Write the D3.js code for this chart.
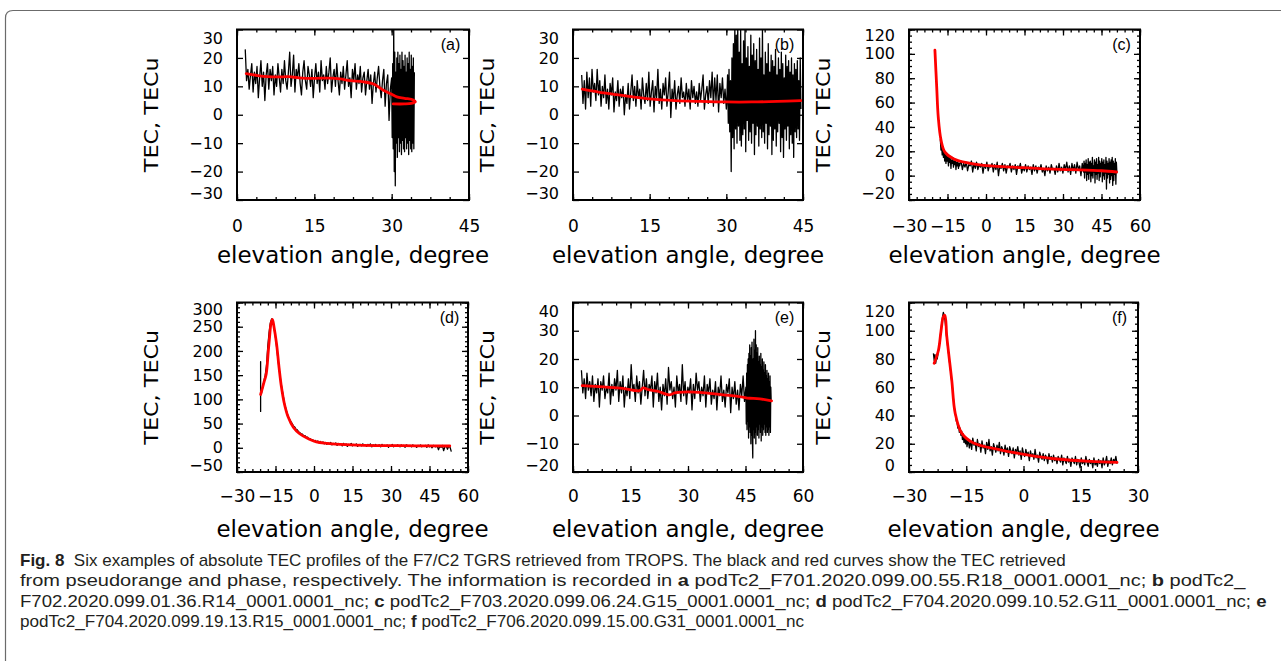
<!DOCTYPE html>
<html><head><meta charset="utf-8">
<script src="https://cdn.jsdelivr.net/npm/d3@7"></script>
<style>body{margin:0;background:#fff}svg{display:block}</style>
</head><body>
<svg id="c" width="1281" height="661"></svg>
<script>
// ---------------- DATA ----------------
// black curves: segments of [xStart, xEnd, values sampled evenly between them]
const aBlack = [
  [1.6, 30.0, [23,12,16,9,14,18,8,15,11,17,6,13,19,10,15,5,14,18,9,16,12,17,7,14,10,18,13,8,16,11,19,12,9,15,22,10,14,21,8,16,13,18,11,7,15,19,12,9,17,14,10,16,6,13,18,11,15,8,19,12,14,9,17,11,15,20,8,13,16,10,18,12,7,15,11,17,9,14,19,10,13,6,16,12,18,9,14,11,17,8,13,15,7,12,16,9,14,4,11,15,8,13,17,10,6,12,16,3,11,14,-2,9,13]],
  [30.1, 34.4, [-8,18,-12,32,-20,22,-25,15,-10,20,-15,22,-8,18,-13,21,-10,16,-14,22,-9,19,-12,17,-13,21,-8,15,-12,20,-10,18,-14,22,-9,16,-12,21,-13,17,-10,20,-12,15]]
];
const aRedX = [1.8, 4, 6, 8, 10, 12, 15, 18, 20, 22, 24.5, 26.5, 28.3, 30, 31, 32.5, 34.2, 34.6, 33.8, 32.5, 30.3];
const aRedY = [14.5, 13.8, 13.4, 13.3, 13.4, 13.0, 12.8, 12.9, 12.6, 12.0, 11.6, 10.8, 8.7, 7.2, 6.3, 5.8, 5.2, 4.6, 4.0, 3.8, 3.8];

const bBlack = [
  [1.7, 30.0, [14,4,12,2,15,6,13,3,16,8,11,5,16,7,12,3,10,6,14,4,9,2,11,7,13,1,8,5,12,3,9,6,10,0,7,4,11,2,8,14,5,10,3,12,6,9,2,13,7,4,11,5,15,3,8,12,1,10,6,16,4,9,2,11,7,13,3,8,15,-1,9,5,12,2,7,10,4,13,6,8,3,11,5,9,2,12,6,10,4,8,3,11,5,9,14,2,7,10,4,12,6,15,3,13,5,14,1,11,6,13,4,9,2]],
  [30.1, 44.6, [5,14,-3,16,-6,12,-20,20,-8,25,-12,32,-5,28,-10,32,-4,22,-9,30,-11,18,-7,26,-5,30,-13,20,-2,24,-9,17,-6,28,-10,21,-3,25,-14,19,-7,23,-4,16,-11,27,-5,20,-8,30,-6,14,-10,22,-3,18,-12,25,-7,15,-4,21,-14,19,-9,17,-5,23,-11,14,-6,20,-3,16,-13,22,-8,18,-15,13,-5,21,-9,17,-4,19,-12,15,-7,20,-10,14,-15,18,-6,16,-8,19,-5,12,-9,20,2]]
];
const bRedX = [1.8, 5, 8, 12, 15, 20, 25, 30, 35, 40, 44.6];
const bRedY = [9.0, 8.0, 7.2, 6.2, 5.6, 5.0, 4.7, 4.5, 4.5, 4.7, 5.0];

const cBlack = [
  [-17.8, -10, [30,21,26,17,23,15,21,12,19,10,17,12,16,8,15,11,14,6,13,10,15,7,12,9,13,5,11,8,12,6,10,8,11]],
  [-9.7, 38, [12,5,10,7,11,4,9,8,12,3,10,6,11,5,9,7,10,2,9,6,11,4,8,7,10,3,9,5,11,0,8,6,10,4,9,2,8,7,10,3,8,5,9,1,8,6,10,2,7,4,9,3,8,5,7,1,9,4,8,2,7,5,9,3,6,0,8,4,7,2,9,5,6,1,8,3,10,4,7,2,9,5,11,3,8,1,10,4,9,2,11,5,8,0,10,3]],
  [38.2, 51, [12,-2,10,3,13,-4,9,1,14,-3,11,2,12,-5,10,0,15,-2,8,3,13,-6,11,1,14,-3,9,2,15,-4,12,-1,10,4,14,-5,11,0,13,-3,9,2,15,-11,12,-2,10,1,14,-6,11,-3,13,0,15,-8,12,-4,10,1,14,-7,11,2]]
];
const cRedX = [-19.9, -19.2, -18.6, -17.5, -16, -12.7, -7.5, -1, 10.6, 21, 34, 45, 50.9];
const cRedY = [103, 72.5, 48, 29, 19.3, 13.9, 10.6, 8.4, 7.0, 5.7, 4.9, 4.0, 3.0];

const dBlack = [
  [-20.8, -20.8, [110, 75, 178, 112]],
  [-20.5, -10, [112,124,138,150,170,210,238,258,266,262,245,228,205,180,160,140,122,108,92,82,72,64]],
  [-9.5, 53.5, [58,54,50,45,43,38,37,33,31,29,28,24,25,21,22,18,19,16,17,13,15,12,14,10,13,9,12,8,11,7,10,8,11,6,9,7,10,5,9,7,8,4,9,6,8,3,7,6,9,4,7,5,8,3,6,7,4,8,5,6,3,7,5,8,2,6,4,7,3,5,6,2,7,4,5,3,6,1,5,4,7,2,5,3,6,4,2,6,3,5,1,6,4,3,5,2,6,3,4,1,5,3,6,2,4,3,5,1,6,2,4,0,5,3,2,4,-4,3,1,5,-6,2,4,-3,3,1,-8]]
];
const dRedX = [-20.8, -19.5, -18.6, -17.8, -17.3, -16.8, -16.2, -15.6, -14.6, -13.6, -12.7, -11.5, -10.1, -8, -5.6, -2, 0.9, 5, 10, 19.1, 30, 40, 52.9];
const dRedY = [110, 135, 153, 200, 229, 255, 265, 250, 215, 165, 126, 90, 64, 42, 29, 18, 12, 9, 7, 5, 4.5, 4, 3.7];

const eBlack = [
  [2.2, 45.1, [16,8,13,6,15,9,12,7,14,5,11,8,13,3,12,9,14,6,10,8,15,4,11,7,13,9,16,5,12,8,14,3,10,7,13,6,18,9,11,5,14,8,12,4,10,16,7,13,6,11,9,14,3,12,8,15,5,10,2,11,7,13,4,17,9,12,6,10,3,14,8,11,5,18,7,12,4,10,8,13,2,11,6,15,9,12,5,10,7,14,3,11,8,13,4,9,6,12,2,10,7,14,5,9,3,11,8,13,1,10,6,12,4,9,2,11,7,14,5,10]],
  [45.2, 51.7, [-3,15,-5,18,-2,20,-8,22,-4,25,-6,21,-10,24,-7,26,-9,-15,20,-5,27,-8,23,-6,30,-10,25,-4,22,-7,24,-5,19,-8,21,-3,18,-6,22,-9,17,-4,20,-7,16,-5,19,-3,15,-6,18,-7,14,-4,16,-6,13,-5,15,-7,12,-4,14,-6,10,5]]
];
const eRedX = [2.4, 8, 13, 17.4, 18.3, 19.5, 22, 25.2, 26.5, 28.7, 33, 39.1, 43, 46.1, 48, 51.8];
const eRedY = [10.6, 10.1, 9.6, 8.8, 9.8, 9.2, 8.6, 7.3, 8.0, 8.3, 8.2, 7.3, 6.8, 6.1, 6.0, 5.2];

const fBlack = [
  [-23.6, -15, [84,79,83,77,81,80,84,87,91,96,101,106,110,113,111,108,103,97,92,87,83,78,74,69,64,59,53,48,43,40,36,35,31,33,28,31,26,29,23,27,21,25,20,24]],
  [-14.8, 24.5, [18,23,17,22,16,24,19,21,15,23,18,20,14,22,17,19,13,21,16,23,15,18,12,20,17,14,19,15,21,13,18,16,12,19,14,17,11,18,15,13,17,10,16,14,18,12,15,9,17,13,11,16,12,14,8,15,11,13,9,16,10,12,7,14,11,9,13,8,12,10,6,13,9,11,7,12,8,10,6,11,9,7,12,5,10,8,6,11,7,9,4,10,8,6,11,5,9,7,3,10,6,8,5,11,7,4,9,6,8,3,10,5,7,4,9,6,8,3,10,5,7,11,4,8,6,10,5,9,7,11,6]]
];
const fRedX = [-23.4, -22.3, -21.6, -21.0, -20.6, -20.1, -18.8, -17.9, -16.2, -13.1, -6.1, 0.9, 8.8, 17.5, 24.5];
const fRedY = [77, 86, 100, 110, 111, 96, 65, 41.6, 27.5, 20.5, 15.7, 12.2, 9.2, 7.5, 6.8];

const xTicksA = [0, 15, 30, 45];
const xTicksC = [-30, -15, 0, 15, 30, 45, 60];
const xTicksE = [0, 15, 30, 45, 60];
const xTicksF = [-30, -15, 0, 15, 30];
const yTicksA = [-30, -20, -10, 0, 10, 20, 30];
const yTicksC = [-20, 0, 20, 40, 60, 80, 100, 120];
const yTicksD = [-50, 0, 50, 100, 150, 200, 250, 300];
const yTicksE = [-20, -10, 0, 10, 20, 30, 40];
const yTicksF = [0, 20, 40, 60, 80, 100, 120];
const panelLetters = ["(a)", "(b)", "(c)", "(d)", "(e)", "(f)"];
const xTitle = "elevation angle, degree";
const yTitle = "TEC, TECu";

// ---------------- LAYOUT ----------------
const panels = [
  {lab:panelLetters[0], box:[237,29.5,469,200], xd:[0,45], yd:[-30,30], xt:xTicksA, yt:yTicksA, xm:3.75, ym:0, black:aBlack, rx:aRedX, ry:aRedY, row:0, top:8.5},
  {lab:panelLetters[1], box:[573,29.5,803,200], xd:[0,45], yd:[-30,30], xt:xTicksA, yt:yTicksA, xm:3.75, ym:0, black:bBlack, rx:bRedX, ry:bRedY, row:0, top:8.5},
  {lab:panelLetters[2], box:[909,29.5,1140,200], xd:[-30,60], yd:[-20,120], xt:xTicksC, yt:yTicksC, xm:3, ym:5, black:cBlack, rx:cRedX, ry:cRedY, row:0, top:5.5},
  {lab:panelLetters[3], box:[237,302.5,468,472], xd:[-30,60], yd:[-50,300], xt:xTicksC, yt:yTicksD, xm:3, ym:10, black:dBlack, rx:dRedX, ry:dRedY, row:1, top:7},
  {lab:panelLetters[4], box:[573,302.5,803,472], xd:[0,60], yd:[-20,40], xt:xTicksE, yt:yTicksE, xm:3.75, ym:0, black:eBlack, rx:eRedX, ry:eRedY, row:1, top:8.5},
  {lab:panelLetters[5], box:[909,302.5,1138,472], xd:[-30,30], yd:[0,120], xt:xTicksF, yt:yTicksF, xm:3.75, ym:5, black:fBlack, rx:fRedX, ry:fRedY, row:1, top:8.5}
];

const svg = d3.select("#c");
// outer frame
svg.append("path")
  .attr("d", "M5.5,700 L5.5,18 Q5.5,10.5 13,10.5 L1300,10.5")
  .attr("fill", "none").attr("stroke", "#6b6b6b").attr("stroke-width", 1.2);

const fmt = v => v < 0 ? "\u2212" + Math.abs(v) : String(v);
const FONT = "DejaVu Sans";

function styleAxis(g, showText, size) {
  g.attr("font-family", null).attr("font-size", null);
  g.select(".domain").remove();
  g.selectAll(".tick line").attr("stroke", "#000").attr("stroke-width", 1.3);
  if (showText) g.selectAll("text").attr("font-family", FONT).attr("font-size", size).attr("fill", "#000");
  else g.selectAll("text").remove();
}
function minorVals(dom, step) {
  if (!step) return [];
  return d3.range(dom[0], dom[1] + 1e-6, step);
}

panels.forEach((p, i) => {
  const [L, T, R, B] = p.box;
  const x = d3.scaleLinear().domain(p.xd).range([L, R]);
  const y = d3.scaleLinear().domain(p.yd).range([B, T]);
  const g = svg.append("g");
  const cid = "clip" + i;
  svg.append("clipPath").attr("id", cid).append("rect")
    .attr("x", L).attr("y", T).attr("width", R - L).attr("height", B - T);

  // black curve from segments
  const pts = [];
  p.black.forEach(([x0, x1, vals]) => {
    const n = vals.length;
    vals.forEach((v, k) => pts.push([n > 1 ? x0 + (x1 - x0) * k / (n - 1) : x0, v]));
  });
  g.append("path").datum(pts)
    .attr("clip-path", `url(#${cid})`)
    .attr("d", d3.line().x(d => x(d[0])).y(d => y(d[1])))
    .attr("fill", "none").attr("stroke", "#000").attr("stroke-width", 1.3).attr("stroke-linejoin", "round");

  // red curve
  const red = p.rx.map((v, k) => [v, p.ry[k]]);
  g.append("path").datum(red)
    .attr("clip-path", `url(#${cid})`)
    .attr("d", d3.line().curve(d3.curveCatmullRom.alpha(0.5)).x(d => x(d[0])).y(d => y(d[1])))
    .attr("fill", "none").attr("stroke", "#ff0000").attr("stroke-width", 2.8)
    .attr("stroke-linejoin", "round").attr("stroke-linecap", "round");

  // axes: minor ticks
  const xmin = minorVals(p.xd, p.xm), ymin = minorVals(p.yd, p.ym);
  if (xmin.length) {
    g.append("g").attr("transform", `translate(0,${B})`).call(d3.axisBottom(x).tickValues(xmin).tickSize(-3).tickFormat("")).call(a => styleAxis(a, false));
    g.append("g").attr("transform", `translate(0,${T})`).call(d3.axisTop(x).tickValues(xmin).tickSize(-3).tickFormat("")).call(a => styleAxis(a, false));
  }
  if (ymin.length) {
    g.append("g").attr("transform", `translate(${L},0)`).call(d3.axisLeft(y).tickValues(ymin).tickSize(-3).tickFormat("")).call(a => styleAxis(a, false));
    g.append("g").attr("transform", `translate(${R},0)`).call(d3.axisRight(y).tickValues(ymin).tickSize(-3).tickFormat("")).call(a => styleAxis(a, false));
  }
  // major ticks
  g.append("g").attr("transform", `translate(0,${B})`)
    .call(d3.axisBottom(x).tickValues(p.xt).tickSize(-6).tickPadding(p.row ? 18 : 20).tickFormat(fmt))
    .call(a => styleAxis(a, true, 17));
  g.append("g").attr("transform", `translate(0,${T})`)
    .call(d3.axisTop(x).tickValues(p.xt).tickSize(-6).tickFormat("")).call(a => styleAxis(a, false));
  const ya = g.append("g").attr("transform", `translate(${L},0)`)
    .call(d3.axisLeft(y).tickValues(p.yt).tickSize(-6).tickPadding(14).tickFormat(fmt))
    .call(a => styleAxis(a, true, 16));
  const ymax = d3.max(p.yt), yminV = d3.min(p.yt);
  ya.selectAll(".tick text").attr("y", d => d === ymax ? p.top : d === yminV ? -6.5 : 0);
  g.append("g").attr("transform", `translate(${R},0)`)
    .call(d3.axisRight(y).tickValues(p.yt).tickSize(-6).tickFormat("")).call(a => styleAxis(a, false));

  // frame box
  g.append("rect").attr("x", L).attr("y", T).attr("width", R - L).attr("height", B - T)
    .attr("fill", "none").attr("stroke", "#000").attr("stroke-width", 2);

  // panel letter
  g.append("text").attr("x", R - 18.5).attr("y", T + 20).attr("text-anchor", "middle")
    .attr("font-family", "Liberation Sans").attr("font-size", 16).attr("fill", "#000").text(p.lab);

  // axis titles
  g.append("text").attr("x", (L + R) / 2).attr("y", p.row ? 537 : 263).attr("text-anchor", "middle")
    .attr("font-family", FONT).attr("font-size", 23).attr("fill", "#000")
    .attr("textLength", 272).attr("lengthAdjust", "spacingAndGlyphs").text(xTitle);
  g.append("text").attr("transform", `translate(${L - 86 + 7},${(T + B) / 2}) rotate(-90)`)
    .attr("text-anchor", "middle").attr("font-family", FONT).attr("font-size", 19).attr("fill", "#000")
    .attr("textLength", 115).attr("lengthAdjust", "spacingAndGlyphs").text(yTitle);
});

// caption
const capLines = [
  [["b","Fig. 8"],["n","  Six examples of absolute TEC profiles of the F7/C2 TGRS retrieved from TROPS. The black and red curves show the TEC retrieved"]],
  [["n","from pseudorange and phase, respectively. The information is recorded in "],["b","a"],["n"," podTc2_F701.2020.099.00.55.R18_0001.0001_nc; "],["b","b"],["n"," podTc2_"]],
  [["n","F702.2020.099.01.36.R14_0001.0001_nc; "],["b","c"],["n"," podTc2_F703.2020.099.06.24.G15_0001.0001_nc; "],["b","d"],["n"," podTc2_F704.2020.099.10.52.G11_0001.0001_nc; "],["b","e"]],
  [["n","podTc2_F704.2020.099.19.13.R15_0001.0001_nc; "],["b","f"],["n"," podTc2_F706.2020.099.15.00.G31_0001.0001_nc"]]
];
const capEnds = [1066, 1246, 1268, 805];
const capY = [566, 586, 607, 627];
capLines.forEach((line, i) => {
  const t = svg.append("text").attr("font-family", "Liberation Sans").attr("font-size", 17)
    .attr("fill", "#231f20").attr("xml:space", "preserve").style("white-space", "pre");
  line.forEach(([w, s]) => t.append("tspan").attr("font-weight", w === "b" ? "bold" : "normal").text(s));
  const len = t.node().getComputedTextLength();
  const sx = (capEnds[i] - 20) / len;
  t.attr("transform", `translate(20,${capY[i]}) scale(${sx},1)`);
});
</script>
</body></html>
